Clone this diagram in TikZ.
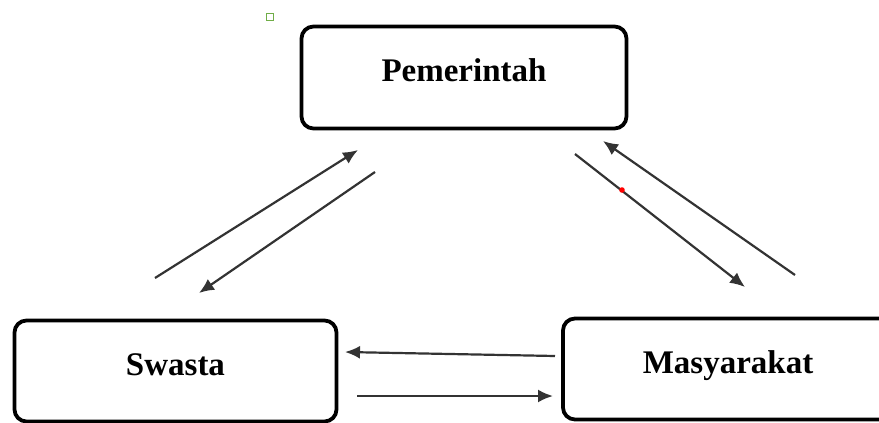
\documentclass[tikz,border=0pt]{standalone}
\usepackage{fontspec}
\setmainfont{Liberation Serif}
\usetikzlibrary{positioning,arrows.meta}
\definecolor{markgreen}{RGB}{112,173,71}

\begin{document}
\begin{tikzpicture}[
    x=1pt, y=-1pt,
    box/.style={rectangle, draw, line width=3.8pt, rounded corners=12pt, minimum height=101pt, text height=24pt, text depth=16pt, font=\fontsize{33}{36}\selectfont\bfseries},
    flow/.style={draw=black!80, line width=2.2pt, -{Latex[length=15pt,width=13pt]}},
]
\useasboundingbox (0,0) rectangle (879,423);

% Row 1 - Top box
\node[box, minimum width=325pt, minimum height=102pt] (pem) at (464,77.5) {Pemerintah};

% Row 2 - Bottom boxes
\node[box, minimum width=322pt] (swa) at (175.5,371) {Swasta};
\node[box, minimum width=330pt] (mas) at (728,369) {Masyarakat};

% arrow ends
\coordinate (a1) at (155,278);  \coordinate (a2) at (358,150);
\coordinate (b1) at (375,172);  \coordinate (b2) at (199,293);
\coordinate (c1) at (575,154);  \coordinate (c2) at (745,287);
\coordinate (d1) at (795,275);  \coordinate (d2) at (603,141);
\coordinate (e1) at (555,356);  \coordinate (e2) at (345,352);
\coordinate (f1) at (357,396);  \coordinate (f2) at (553,396);

% Swasta <-> Pemerintah
\draw[flow] (a1) -- (a2);
\draw[flow] (b1) -- (b2);

% Pemerintah <-> Masyarakat
\draw[flow] (c1) -- (c2);
\draw[flow] (d1) -- (d2);

% Masyarakat <-> Swasta
\draw[flow] (e1) -- (e2);
\draw[flow] (f1) -- (f2);

% small marks
\draw[draw=markgreen, line width=1.8pt] (266.5,13.5) rectangle (273.5,20.5);
\fill[red] (622,190) circle (2.8pt);

\end{tikzpicture}
\end{document}
